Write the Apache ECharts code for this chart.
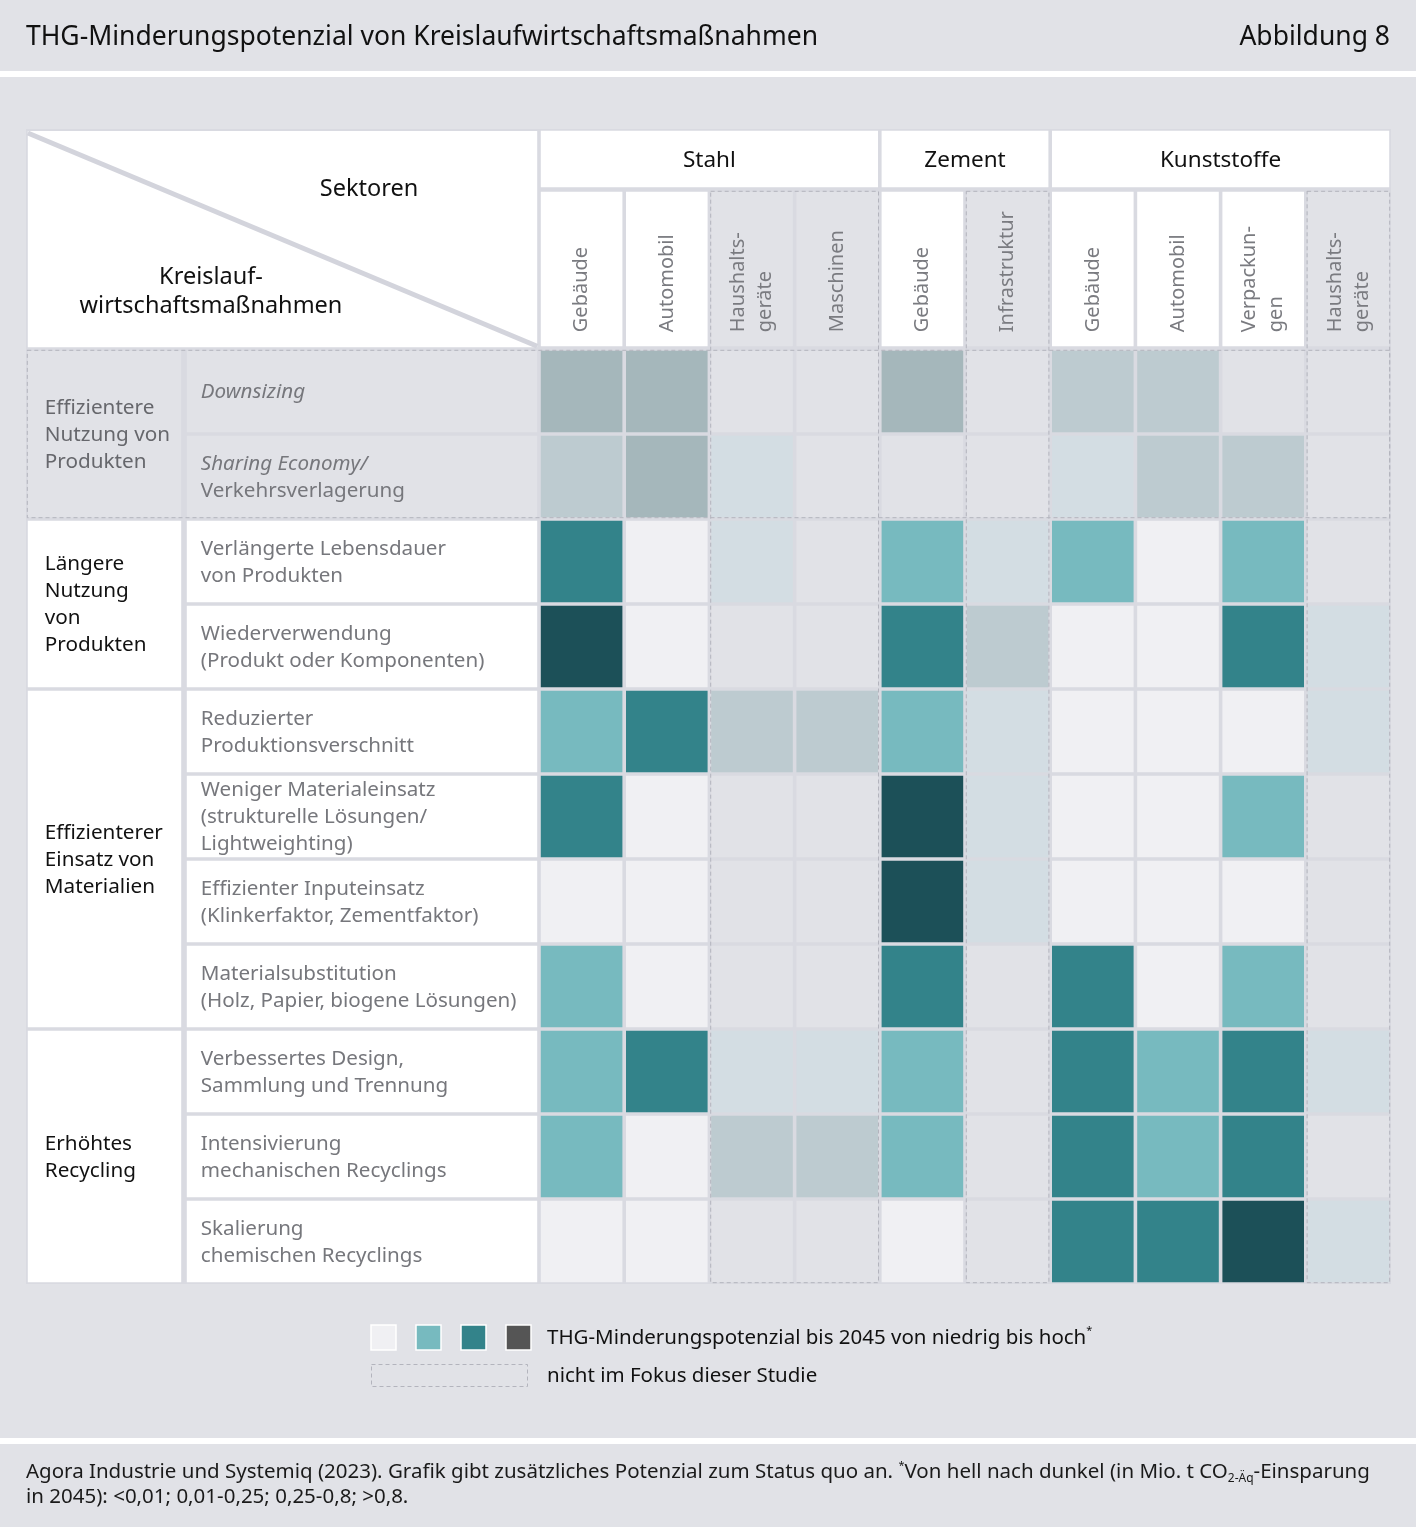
<!DOCTYPE html>
<html>
<head>
<meta charset="utf-8">
<script src="https://cdn.jsdelivr.net/npm/echarts@6/dist/echarts.min.js"></script>
<style>
html,body{margin:0;padding:0;background:#e1e2e7;}
#chart{width:1416px;height:1527px;}
</style>
</head>
<body>
<div id="chart"></div>
<script>
// ---------------- data ----------------
const titleText = 'THG-Minderungspotenzial von Kreislaufwirtschaftsmaßnahmen';
const figureLabel = 'Abbildung 8';
const cornerTop = 'Sektoren';
const cornerBottom = 'Kreislauf-\nwirtschaftsmaßnahmen';

const sectors = ['Stahl', 'Zement', 'Kunststoffe'];
const sectorSpans = [[0, 3], [4, 5], [6, 9]];

const columns = ['Gebäude', 'Automobil', 'Haushalts-\ngeräte', 'Maschinen', 'Gebäude',
  'Infrastruktur', 'Gebäude', 'Automobil', 'Verpackun-\ngen', 'Haushalts-\ngeräte'];
const columnFocus = [1, 1, 0, 0, 1, 0, 1, 1, 1, 0];

const groups = ['Effizientere\nNutzung von\nProdukten', 'Längere\nNutzung\nvon\nProdukten',
  'Effizienterer\nEinsatz von\nMaterialien', 'Erhöhtes\nRecycling'];
const groupSpans = [[0, 1], [2, 3], [4, 7], [8, 10]];
const groupFocus = [0, 1, 1, 1];

const measures = [
  'Downsizing',
  'Sharing Economy/\nVerkehrsverlagerung',
  'Verlängerte Lebensdauer\nvon Produkten',
  'Wiederverwendung\n(Produkt oder Komponenten)',
  'Reduzierter\nProduktionsverschnitt',
  'Weniger Materialeinsatz\n(strukturelle Lösungen/\nLightweighting)',
  'Effizienter Inputeinsatz\n(Klinkerfaktor, Zementfaktor)',
  'Materialsubstitution\n(Holz, Papier, biogene Lösungen)',
  'Verbessertes Design,\nSammlung und Trennung',
  'Intensivierung\nmechanischen Recyclings',
  'Skalierung\nchemischen Recyclings'
];
const measureItalicLines = [1, 1, 0, 0, 0, 0, 0, 0, 0, 0, 0];

// potential level 0 (low) .. 3 (high), rows = measures, cols = columns
const levels = [
  [3, 3, 0, 0, 3, 0, 2, 2, 0, 0],
  [2, 3, 1, 0, 0, 0, 1, 2, 2, 0],
  [2, 0, 1, 0, 1, 1, 1, 0, 1, 0],
  [3, 0, 0, 0, 2, 2, 0, 0, 2, 1],
  [1, 2, 2, 2, 1, 1, 0, 0, 0, 1],
  [2, 0, 0, 0, 3, 1, 0, 0, 1, 0],
  [0, 0, 0, 0, 3, 1, 0, 0, 0, 0],
  [1, 0, 0, 0, 2, 0, 2, 0, 1, 0],
  [1, 2, 1, 1, 1, 0, 2, 1, 2, 1],
  [1, 0, 2, 2, 1, 0, 2, 1, 2, 0],
  [0, 0, 0, 0, 0, 0, 2, 2, 3, 1]
];

const legendText = 'THG-Minderungspotenzial bis 2045 von niedrig bis hoch{sup|*}';
const legendNoFocus = 'nicht im Fokus dieser Studie';
const sourceText = 'Agora Industrie und Systemiq (2023). Grafik gibt zusätzliches Potenzial zum Status quo an. {sup|*}Von hell nach dunkel (in Mio. t CO{sub|2-Äq}-Einsparung\nin 2045): <0,01; 0,01-0,25; 0,25-0,8; >0,8.';

// ---------------- styles ----------------
const paletteFocus = ['#f0f0f3', '#77babf', '#33838a', '#1c5058'];
const paletteMuted = ['#e1e2e7', '#d3dde3', '#bdcbd0', '#a5b7bb'];
const legendColors = ['#f0f0f3', '#77babf', '#33838a', '#555555'];
const FONT = '"Noto Sans", "DejaVu Sans", sans-serif';
const BG = '#e1e2e7';
const GAPC = '#d9dae1';
const DASHC = '#b3b4bd';
const G = 1.8;

const rowFocus = measures.map((m, r) => {
  const gi = groupSpans.findIndex(s => r >= s[0] && r <= s[1]);
  return groupFocus[gi];
});

const colIds = columns.map((c, i) => 'c' + i);
const rowIds = measures.map((m, i) => 'r' + i);

const cellData = [];
levels.forEach((row, r) => row.forEach((lv, c) => {
  cellData.push([c, r, lv, (columnFocus[c] && rowFocus[r]) ? 1 : 0]);
}));

function bandRect(api, x0, y0, x1, y1) {
  const a = api.coord([x0, y0]);
  const b = api.coord([x1, y1]);
  const s = api.size([1, 1]);
  return {
    x: a[0] - s[0] / 2 + G,
    y: a[1] - s[1] / 2 + G,
    width: b[0] - a[0] + s[0] - 2 * G,
    height: b[1] - a[1] + s[1] - 2 * G
  };
}

const chart = echarts.init(document.getElementById('chart'), null, { renderer: 'canvas' });

const option = {
  backgroundColor: BG,
  animation: false,
  grid: [
    { left: 539, top: 349, width: 852, height: 935 },
    { left: 539, top: 190, width: 852, height: 158 },
    { left: 539, top: 129, width: 852, height: 60 },
    { left: 26, top: 349, width: 157, height: 935 },
    { left: 185, top: 349, width: 354, height: 935 }
  ],
  xAxis: [
    { gridIndex: 0, type: 'category', data: colIds, show: false },
    { gridIndex: 1, type: 'category', data: colIds, show: false },
    { gridIndex: 2, type: 'category', data: colIds, show: false },
    { gridIndex: 3, type: 'category', data: ['g'], show: false },
    { gridIndex: 4, type: 'category', data: ['m'], show: false }
  ],
  yAxis: [
    { gridIndex: 0, type: 'category', data: rowIds, inverse: true, show: false },
    { gridIndex: 1, type: 'category', data: ['h'], show: false },
    { gridIndex: 2, type: 'category', data: ['s'], show: false },
    { gridIndex: 3, type: 'category', data: rowIds, inverse: true, show: false },
    { gridIndex: 4, type: 'category', data: rowIds, inverse: true, show: false }
  ],
  graphic: [],
  series: [
    {
      type: 'custom', xAxisIndex: 0, yAxisIndex: 0, data: cellData, silent: true,
      encode: { x: 0, y: 1 },
      renderItem: function (params, api) {
        const c = api.value(0), r = api.value(1), lv = api.value(2), f = api.value(3);
        return { type: 'rect', shape: bandRect(api, c, r, c, r),
          style: { fill: (f ? paletteFocus : paletteMuted)[lv] } };
      }
    },
    {
      type: 'custom', xAxisIndex: 1, yAxisIndex: 1, silent: true,
      data: columns.map((t, i) => [i, 0, columnFocus[i]]),
      encode: { x: 0, y: 1 },
      renderItem: function (params, api) {
        const i = api.value(0);
        const rc = bandRect(api, i, 0, i, 0);
        return { type: 'group', children: [
          { type: 'rect', shape: rc, style: { fill: api.value(2) ? '#ffffff' : BG } },
          { type: 'text', x: rc.x + rc.width / 2, y: rc.y + rc.height - 14, rotation: Math.PI / 2,
            style: { text: columns[i], fill: '#7a7b80', fontSize: 20, fontFamily: FONT,
              align: 'left', verticalAlign: 'middle', lineHeight: 27 } }
        ] };
      }
    },
    {
      type: 'custom', xAxisIndex: 2, yAxisIndex: 2, silent: true,
      data: sectorSpans.map((s, i) => [s[0], 0, s[1], i]),
      encode: { x: 0, y: 1 },
      renderItem: function (params, api) {
        const rc = bandRect(api, api.value(0), 0, api.value(2), 0);
        return { type: 'group', children: [
          { type: 'rect', shape: rc, style: { fill: '#ffffff' } },
          { type: 'text', x: rc.x + rc.width / 2, y: rc.y + rc.height / 2 + 2,
            style: { text: sectors[api.value(3)], fill: '#111111', fontSize: 22.5, fontFamily: FONT,
              align: 'center', verticalAlign: 'middle' } }
        ] };
      }
    },
    {
      type: 'custom', xAxisIndex: 3, yAxisIndex: 3, silent: true,
      data: groupSpans.map((s, i) => [0, s[0], s[1], i]),
      encode: { x: 0, y: 1 },
      renderItem: function (params, api) {
        const gi = api.value(3);
        const rc = bandRect(api, 0, api.value(1), 0, api.value(2));
        const f = groupFocus[gi];
        return { type: 'group', children: [
          { type: 'rect', shape: rc, style: { fill: f ? '#ffffff' : BG } },
          { type: 'text', x: rc.x + 17, y: rc.y + rc.height / 2 + 1,
            style: { text: groups[gi], fill: f ? '#111111' : '#66676c', fontSize: 20.7, fontFamily: FONT,
              align: 'left', verticalAlign: 'middle', lineHeight: 27 } }
        ] };
      }
    },
    {
      type: 'custom', xAxisIndex: 4, yAxisIndex: 4, silent: true,
      data: measures.map((m, r) => [0, r]),
      encode: { x: 0, y: 1 },
      renderItem: function (params, api) {
        const r = api.value(1);
        const rc = bandRect(api, 0, r, 0, r);
        const lines = measures[r].split('\n');
        const txt = lines.map((l, k) => (k < measureItalicLines[r] ? '{i|' : '{n|') + l + '}').join('\n');
        const base = { fill: '#76777c', fontSize: 20.6, fontFamily: FONT, lineHeight: 27 };
        return { type: 'group', children: [
          { type: 'rect', shape: rc, style: { fill: rowFocus[r] ? '#ffffff' : BG } },
          { type: 'text', x: rc.x + 14, y: rc.y + rc.height / 2 + 1,
            style: Object.assign({ text: txt, align: 'left', verticalAlign: 'middle',
              rich: { i: Object.assign({ fontStyle: 'italic' }, base), n: Object.assign({}, base) } }, base) }
        ] };
      }
    }
  ]
};

chart.setOption(option);

// -------- decorations derived from the axes' pixel mapping --------
function px(gridAxes, v) { return chart.convertToPixel(gridAxes, v); }
const g0 = { xAxisIndex: 0, yAxisIndex: 0 };
const g1 = { xAxisIndex: 1, yAxisIndex: 1 };
const g3 = { xAxisIndex: 3, yAxisIndex: 3 };
const bw = px(g0, [1, 0])[0] - px(g0, [0, 0])[0];
const bh = px(g0, [0, 1])[1] - px(g0, [0, 0])[1];
const hdrCenter = px(g1, [0, 0]);
const hdrH = 158;
const hdrTop = hdrCenter[1] - hdrH / 2 + G;
const tableBottom = px(g0, [0, measures.length - 1])[1] + bh / 2 - G;
const tableRight = px(g0, [columns.length - 1, 0])[0] + bw / 2 - G;
const tableLeft = px(g3, [0, 0])[0] - 157 / 2 + G;

const deco = [];
// table backdrop (gap lines)
deco.push({ type: 'rect', z: -10, shape: { x: tableLeft - G, y: 129, width: tableRight - tableLeft + 2 * G, height: tableBottom - 129 + G },
  style: { fill: GAPC } });
// non-focus column outlines
let runs = [];
columnFocus.forEach((f, i) => {
  if (!f) { if (runs.length && runs[runs.length - 1][1] === i - 1) runs[runs.length - 1][1] = i; else runs.push([i, i]); }
});
runs.forEach(([a, b]) => {
  const xl = px(g0, [a, 0])[0] - bw / 2 + G - 0.5;
  const xr = px(g0, [b, 0])[0] + bw / 2 - G + 0.5;
  deco.push({ type: 'rect', z: 50, shape: { x: xl, y: hdrTop - 0.5, width: xr - xl, height: tableBottom - hdrTop + 1 },
    style: { fill: null, stroke: DASHC, lineWidth: 1, lineDash: [4, 3] } });
});
// non-focus row outlines
let rruns = [];
rowFocus.forEach((f, i) => {
  if (!f) { if (rruns.length && rruns[rruns.length - 1][1] === i - 1) rruns[rruns.length - 1][1] = i; else rruns.push([i, i]); }
});
rruns.forEach(([a, b]) => {
  const yt = px(g0, [0, a])[1] - bh / 2 + G - 0.5;
  const yb = px(g0, [0, b])[1] + bh / 2 - G + 0.5;
  deco.push({ type: 'rect', z: 50, shape: { x: tableLeft - 0.5, y: yt, width: tableRight - tableLeft + 1, height: yb - yt },
    style: { fill: null, stroke: DASHC, lineWidth: 1, lineDash: [4, 3] } });
});

// corner header box
const cornerRight = px(g0, [0, 0])[0] - bw / 2 - G;
deco.push({ type: 'rect', z: 5, shape: { x: tableLeft, y: 131, width: cornerRight - tableLeft, height: hdrTop + hdrH - 2 * G - 131 + 1 },
  style: { fill: '#ffffff' } });
deco.push({ type: 'line', z: 6, shape: { x1: tableLeft, y1: 133, x2: cornerRight, y2: hdrTop + hdrH - 2 * G },
  style: { stroke: '#d3d4dc', lineWidth: 5 } });
deco.push({ type: 'text', z: 7, x: 369, y: 189, style: { text: cornerTop, fill: '#111', fontSize: 23.5, fontFamily: FONT, align: 'center', verticalAlign: 'middle' } });
deco.push({ type: 'text', z: 7, x: 211, y: 292, style: { text: cornerBottom, fill: '#111', fontSize: 23.5, fontFamily: FONT, align: 'center', verticalAlign: 'middle', lineHeight: 29 } });

// title bar
deco.push({ type: 'text', x: 26, y: 37, style: { text: titleText, fill: '#111', fontSize: 26.5, fontFamily: FONT, align: 'left', verticalAlign: 'middle' } });
deco.push({ type: 'text', x: 1390, y: 37, style: { text: figureLabel, fill: '#111', fontSize: 26.5, fontFamily: FONT, align: 'right', verticalAlign: 'middle' } });
deco.push({ type: 'rect', shape: { x: 0, y: 71, width: 1416, height: 6 }, style: { fill: '#ffffff' } });

// legend
legendColors.forEach((c, i) => {
  deco.push({ type: 'rect', shape: { x: 371 + i * 45, y: 1325, width: 25, height: 25 }, style: { fill: c, stroke: '#ffffff', lineWidth: 1.5 } });
});
deco.push({ type: 'rect', shape: { x: 371.5, y: 1364.5, width: 156, height: 22 }, style: { fill: null, stroke: DASHC, lineWidth: 1, lineDash: [4, 3] } });
deco.push({ type: 'text', x: 547, y: 1338, style: { text: legendText, fill: '#111', fontSize: 20.5, fontFamily: FONT, align: 'left', verticalAlign: 'middle', lineHeight: 26,
  rich: { sup: { fontSize: 11, lineHeight: 12, verticalAlign: 'top', fill: '#111', fontFamily: FONT } } } });
deco.push({ type: 'text', x: 547, y: 1376, style: { text: legendNoFocus, fill: '#111', fontSize: 20.5, fontFamily: FONT, align: 'left', verticalAlign: 'middle' } });

// footer
deco.push({ type: 'rect', shape: { x: 0, y: 1438, width: 1416, height: 6 }, style: { fill: '#ffffff' } });
deco.push({ type: 'text', x: 26, y: 1485, style: { text: sourceText, fill: '#1a1a1a', fontSize: 20.5, fontFamily: FONT, align: 'left', verticalAlign: 'middle', lineHeight: 25,
  rich: {
    sup: { fontSize: 11, lineHeight: 12, verticalAlign: 'top', fill: '#1a1a1a', fontFamily: FONT },
    sub: { fontSize: 12, lineHeight: 12, verticalAlign: 'bottom', fill: '#1a1a1a', fontFamily: FONT }
  } } });

chart.setOption({ graphic: deco });
</script>
</body>
</html>
